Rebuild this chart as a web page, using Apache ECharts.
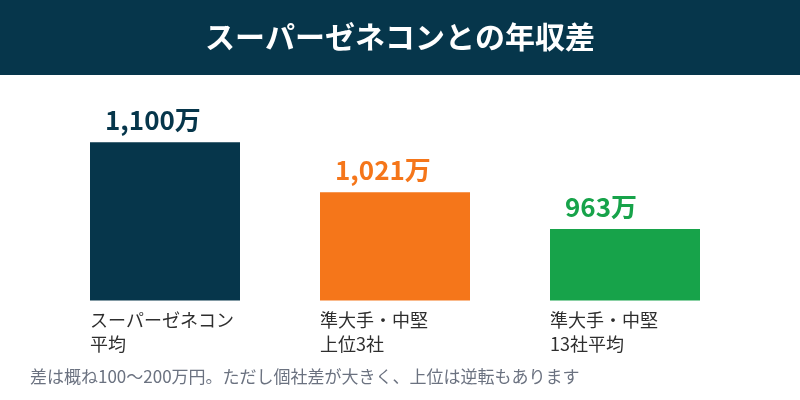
<!DOCTYPE html>
<html>
<head>
<meta charset="utf-8">
<script src="https://cdn.jsdelivr.net/npm/echarts@6/dist/echarts.min.js"></script>
<style>
  html, body { margin: 0; padding: 0; background: #fff; }
  #main { width: 800px; height: 400px; }
</style>
</head>
<body>
<div id="main"></div>
<script>
// 年収（万円）
var categories = ['スーパーゼネコン\n平均', '準大手・中堅\n上位3社', '準大手・中堅\n13社平均'];
var salaries = [1100, 1021, 963];
var barColors = ['#06364b', '#f5761a', '#17a34a'];
var titleText = 'スーパーゼネコンとの年収差';
var noteText = '差は概ね100〜200万円。ただし個社差が大きく、上位は逆転もあります';

var font = '"Noto Sans CJK JP", "Noto Sans", sans-serif';

var chart = echarts.init(document.getElementById('main'));

var option = {
    backgroundColor: '#fff',
    animation: false,
    textStyle: { fontFamily: font },
    grid: {
        left: 50,
        right: 60,
        top: 79,
        bottom: 99.5
    },
    xAxis: {
        type: 'category',
        data: categories,
        axisLine: { show: false },
        axisTick: { show: false },
        axisLabel: {
            margin: 8,
            align: 'center',
            verticalAlign: 'top',
            formatter: function (v) {
                // 棒の左端に揃える
                return v.split('\n').map(function (s) { return '{a|' + s + '}'; }).join('\n');
            },
            rich: {
                a: {
                    width: 150,
                    align: 'left',
                    fontSize: 18,
                    lineHeight: 24,
                    color: '#2e2e2e',
                    fontFamily: font
                }
            }
        }
    },
    yAxis: {
        type: 'value',
        min: 850,
        max: 1200,
        show: false,
        splitLine: { show: false }
    },
    series: [
        {
            type: 'bar',
            barWidth: 150,
            data: salaries.map(function (v, i) {
                return {
                    value: v,
                    itemStyle: { color: barColors[i] },
                    label: { color: barColors[i] }
                };
            }),
            label: {
                show: true,
                position: [15, -22],
                align: 'left',
                verticalAlign: 'middle',
                fontSize: 26,
                fontWeight: 'bold',
                fontFamily: font,
                formatter: function (p) {
                    return p.value.toLocaleString('en-US') + '万';
                }
            }
        }
    ],
    graphic: [
        {
            type: 'rect',
            left: 0, top: 0,
            shape: { width: 800, height: 75 },
            style: { fill: '#06364b' },
            z: 10
        },
        {
            type: 'text',
            x: 400, y: 37,
            style: {
                text: titleText,
                fill: '#fff',
                fontSize: 30,
                fontWeight: 'bold',
                fontFamily: font,
                textAlign: 'center',
                textVerticalAlign: 'middle'
            },
            z: 11
        },
        {
            type: 'text',
            x: 30, y: 377,
            style: {
                text: noteText,
                fill: '#6b7280',
                fontSize: 17,
                fontFamily: font,
                textAlign: 'left',
                textVerticalAlign: 'middle'
            },
            z: 11
        }
    ]
};

chart.setOption(option);
</script>
</body>
</html>
